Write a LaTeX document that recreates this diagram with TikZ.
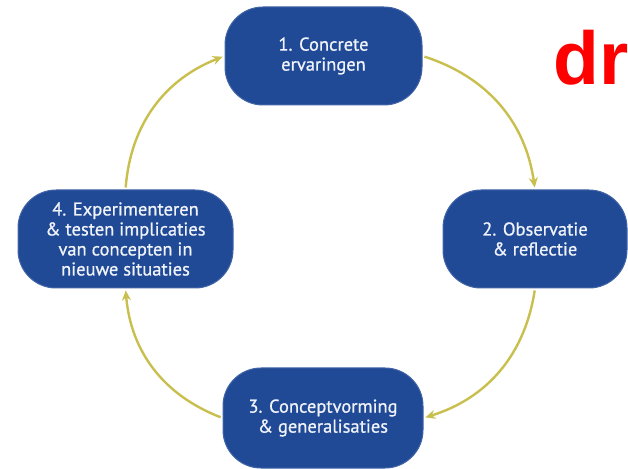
\documentclass[tikz,border=0pt]{standalone}
\usepackage{fontspec}
\setmainfont{PT Sans}
\newfontfamily\boxfont{PT Sans}[FakeBold=0.8]
\newfontfamily\redfont{Liberation Sans}
\usetikzlibrary{arrows.meta}
\definecolor{boxblue}{RGB}{33,74,150}
\definecolor{arrowolive}{RGB}{201,191,78}
\definecolor{txtwhite}{RGB}{240,243,250}
\tikzset{
  stagebox/.style={fill=boxblue, draw=boxblue!85!white, line width=1pt, rounded corners=38pt,
    minimum height=98pt, text=txtwhite, align=center, inner sep=2pt,
    font=\boxfont\fontsize{18.5pt}{20pt}\selectfont},
  cyclearrow/.style={draw=arrowolive, line width=2.4pt,
    -{Stealth[length=10pt,width=9pt]}, bend left=32, shorten >=2pt, shorten <=2pt}
}
\begin{document}
\begin{tikzpicture}[x=1pt,y=1pt]
\useasboundingbox (0,0) rectangle (628,468);
\node[stagebox, minimum width=197pt] (n1) at (323.5,412) {1. Concrete\\ervaringen};
\node[stagebox, minimum width=184pt] (n2) at (535,229) {2. Observatie\\\& reflectie};
\node[stagebox, minimum width=200pt, minimum height=100pt] (n3) at (323,50) {3. Conceptvorming\\\& generalisaties};
\node[stagebox, minimum width=215pt] (n4) at (125.5,229) {4. Experimenteren\\\& testen implicaties\\van concepten in\\nieuwe situaties};
\draw[cyclearrow] (n1.east) to (n2.north);
\draw[cyclearrow] (n2.south) to (n3.east);
\draw[cyclearrow] (n3.west) to (n4.south);
\draw[cyclearrow] (n4.north) to (n1.west);
\node[anchor=base west, inner sep=0pt, text=red, font=\redfont\bfseries\fontsize{75pt}{75pt}\selectfont] (dr) at (553,383) {dr};
\end{tikzpicture}
\end{document}
